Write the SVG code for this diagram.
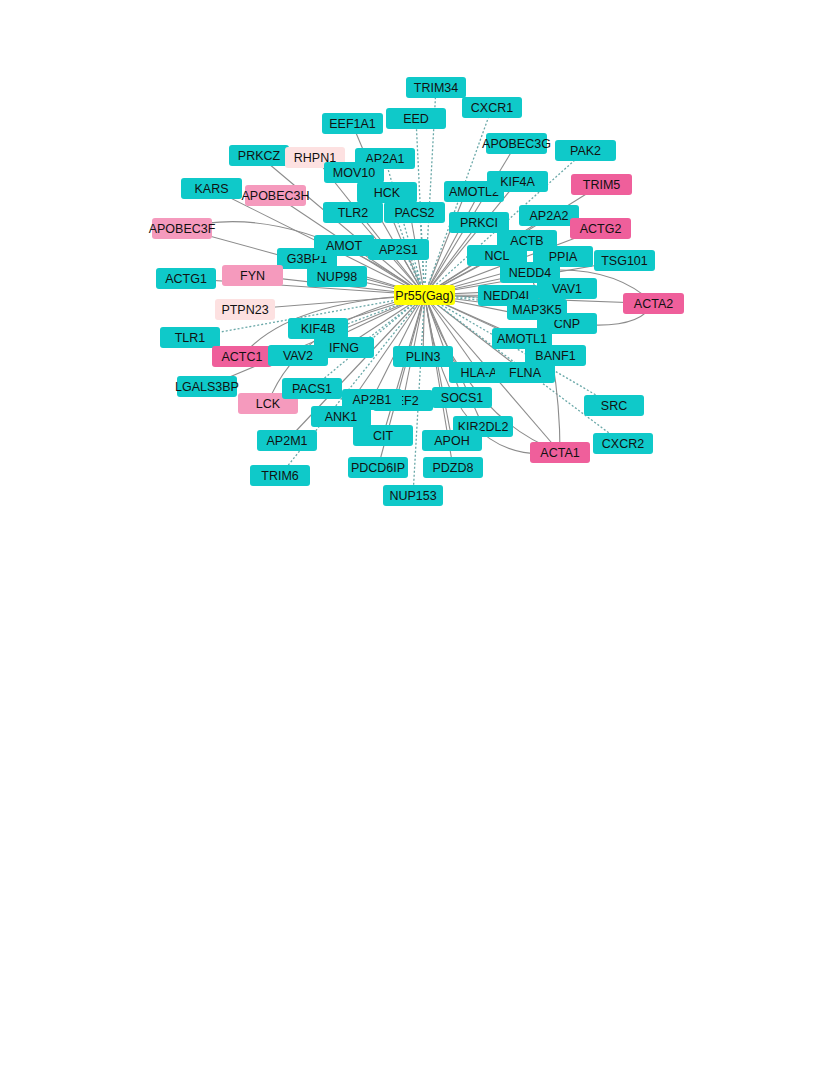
<svg xmlns="http://www.w3.org/2000/svg" width="834" height="1080" viewBox="0 0 834 1080">
<style>
.bg{fill:#ffffff}
.e{stroke:#8c8c8c;stroke-width:1.1;fill:none}
.d{stroke:#6aa8a8;stroke-width:1.3;stroke-dasharray:2 2;fill:none}
.t{fill:#0fc9c9}
.p{fill:#ef5f9b}
.m{fill:#f59abd}
.l{fill:#fde1e1}
.y{fill:#ffff00}
text{font-family:"Liberation Sans",Arial,sans-serif;font-size:12.5px;fill:#111;text-anchor:middle}
</style>
<rect class="bg" x="0" y="0" width="834" height="1080"/>
<g id="connectors">
<line class="e" x1="424.5" y1="295" x2="352" y2="123.5"/>
<line class="e" x1="424.5" y1="295" x2="516.5" y2="143.5"/>
<line class="e" x1="424.5" y1="295" x2="259" y2="155.5"/>
<line class="e" x1="424.5" y1="295" x2="315" y2="157.5"/>
<line class="e" x1="424.5" y1="295" x2="354" y2="172.5"/>
<line class="e" x1="424.5" y1="295" x2="601.5" y2="184.5"/>
<line class="e" x1="424.5" y1="295" x2="517.5" y2="181.5"/>
<line class="e" x1="424.5" y1="295" x2="466" y2="191.5"/>
<line class="e" x1="424.5" y1="295" x2="480" y2="191.5"/>
<line class="e" x1="424.5" y1="295" x2="211.5" y2="188.5"/>
<line class="e" x1="424.5" y1="295" x2="275.5" y2="195.5"/>
<line class="e" x1="424.5" y1="295" x2="353" y2="212.5"/>
<line class="e" x1="424.5" y1="295" x2="410" y2="212.5"/>
<line class="e" x1="424.5" y1="295" x2="549" y2="215.5"/>
<line class="e" x1="424.5" y1="295" x2="479" y2="222.5"/>
<line class="e" x1="424.5" y1="295" x2="182" y2="228.5"/>
<line class="e" x1="424.5" y1="295" x2="600.5" y2="228.5"/>
<line class="e" x1="424.5" y1="295" x2="527" y2="240.5"/>
<line class="e" x1="424.5" y1="295" x2="344" y2="245.5"/>
<line class="e" x1="424.5" y1="295" x2="398.5" y2="249.5"/>
<line class="e" x1="424.5" y1="295" x2="497" y2="255.5"/>
<line class="e" x1="424.5" y1="295" x2="563" y2="256.5"/>
<line class="e" x1="424.5" y1="295" x2="307" y2="258.5"/>
<line class="e" x1="424.5" y1="295" x2="624.5" y2="260.5"/>
<line class="e" x1="424.5" y1="295" x2="530" y2="272.5"/>
<line class="e" x1="424.5" y1="295" x2="252.5" y2="275.5"/>
<line class="e" x1="424.5" y1="295" x2="186" y2="278.5"/>
<line class="e" x1="424.5" y1="295" x2="337" y2="276.5"/>
<line class="e" x1="424.5" y1="295" x2="567" y2="288.5"/>
<line class="e" x1="424.5" y1="295" x2="508" y2="295.5"/>
<line class="e" x1="424.5" y1="295" x2="653.5" y2="303.5"/>
<line class="e" x1="424.5" y1="295" x2="245" y2="309.5"/>
<line class="e" x1="424.5" y1="295" x2="537" y2="309.5"/>
<line class="e" x1="424.5" y1="295" x2="567" y2="323.5"/>
<line class="e" x1="424.5" y1="295" x2="318" y2="328.5"/>
<line class="e" x1="424.5" y1="295" x2="522" y2="338.5"/>
<line class="e" x1="424.5" y1="295" x2="344" y2="347.5"/>
<line class="e" x1="424.5" y1="295" x2="298" y2="355.5"/>
<line class="e" x1="424.5" y1="295" x2="423" y2="356.5"/>
<line class="e" x1="424.5" y1="295" x2="555.5" y2="355.5"/>
<line class="e" x1="424.5" y1="295" x2="479" y2="372.5"/>
<line class="e" x1="424.5" y1="295" x2="525" y2="372.5"/>
<line class="e" x1="424.5" y1="295" x2="207" y2="386.5"/>
<line class="e" x1="424.5" y1="295" x2="462" y2="397.5"/>
<line class="e" x1="424.5" y1="295" x2="403" y2="400.5"/>
<line class="e" x1="424.5" y1="295" x2="372" y2="399.5"/>
<line class="e" x1="424.5" y1="295" x2="341" y2="416.5"/>
<line class="e" x1="424.5" y1="295" x2="483" y2="426.5"/>
<line class="e" x1="424.5" y1="295" x2="383" y2="435.5"/>
<line class="e" x1="424.5" y1="295" x2="287" y2="440.5"/>
<line class="e" x1="424.5" y1="295" x2="452" y2="440.5"/>
<line class="e" x1="424.5" y1="295" x2="560" y2="452.5"/>
<line class="e" x1="424.5" y1="295" x2="378" y2="467.5"/>
<line class="e" x1="424.5" y1="295" x2="453" y2="467.5"/>
<line class="d" x1="424.5" y1="295" x2="436" y2="87.5"/>
<line class="d" x1="424.5" y1="295" x2="492" y2="107.5"/>
<line class="d" x1="424.5" y1="295" x2="416" y2="118.5"/>
<line class="d" x1="424.5" y1="295" x2="585.5" y2="150.5"/>
<line class="d" x1="424.5" y1="295" x2="385" y2="158.5"/>
<line class="d" x1="424.5" y1="295" x2="387" y2="192.5"/>
<line class="d" x1="424.5" y1="295" x2="420" y2="212.5"/>
<line class="d" x1="424.5" y1="295" x2="404" y2="249.5"/>
<line class="d" x1="424.5" y1="295" x2="190" y2="337.5"/>
<line class="d" x1="424.5" y1="295" x2="312" y2="388.5"/>
<line class="d" x1="424.5" y1="295" x2="322" y2="333.5"/>
<line class="d" x1="424.5" y1="295" x2="350" y2="352.5"/>
<line class="d" x1="424.5" y1="295" x2="508" y2="299.5"/>
<line class="d" x1="424.5" y1="295" x2="537" y2="305.5"/>
<line class="d" x1="424.5" y1="295" x2="614" y2="405.5"/>
<line class="d" x1="424.5" y1="295" x2="623" y2="443.5"/>
<line class="d" x1="424.5" y1="295" x2="280" y2="475.5"/>
<line class="d" x1="424.5" y1="295" x2="413" y2="495.5"/>
<path class="e" d="M182,228 Q290,200 424.5,295"/>
<path class="e" d="M242,356 Q290,300 424.5,295"/>
<path class="e" d="M268,403 Q300,320 424.5,295"/>
<path class="e" d="M530,272 Q610,262 653,303"/>
<path class="e" d="M567,323 Q640,332 653,303"/>
<path class="e" d="M424.5,295 Q450,470 560,452"/>
<path class="e" d="M424.5,295 Q470,420 560,452"/>
<path class="e" d="M560,452 Q560,360 530,272"/>
</g>
<g id="n-AP2A1"><rect class="t" x="355" y="148" width="60" height="21" rx="3"/><text x="385" y="163">AP2A1</text></g>
<g id="n-PRKCZ"><rect class="t" x="229" y="145" width="60" height="21" rx="3"/><text x="259" y="160">PRKCZ</text></g>
<g id="n-RHPN1"><rect class="l" x="285" y="147" width="60" height="21" rx="3"/><text x="315" y="162">RHPN1</text></g>
<g id="n-MOV10"><rect class="t" x="324" y="162" width="60" height="21" rx="3"/><text x="354" y="177">MOV10</text></g>
<g id="n-TRIM34"><rect class="t" x="406" y="77" width="60" height="21" rx="3"/><text x="436" y="92">TRIM34</text></g>
<g id="n-CXCR1"><rect class="t" x="462" y="97" width="60" height="21" rx="3"/><text x="492" y="112">CXCR1</text></g>
<g id="n-EED"><rect class="t" x="386" y="108" width="60" height="21" rx="3"/><text x="416" y="123">EED</text></g>
<g id="n-EEF1A1"><rect class="t" x="322" y="113" width="61" height="21" rx="3"/><text x="352.5" y="128">EEF1A1</text></g>
<g id="n-APOBEC3G"><rect class="t" x="486" y="133" width="61" height="21" rx="3"/><text x="516.5" y="148">APOBEC3G</text></g>
<g id="n-PAK2"><rect class="t" x="555" y="140" width="61" height="21" rx="3"/><text x="585.5" y="155">PAK2</text></g>
<g id="n-AMOTL2"><rect class="t" x="444" y="181" width="60" height="21" rx="3"/><text x="474" y="196">AMOTL2</text></g>
<g id="n-KIF4A"><rect class="t" x="487" y="171" width="61" height="21" rx="3"/><text x="517.5" y="186">KIF4A</text></g>
<g id="n-TRIM5"><rect class="p" x="571" y="174" width="61" height="21" rx="3"/><text x="601.5" y="189">TRIM5</text></g>
<g id="n-KARS"><rect class="t" x="181" y="178" width="61" height="21" rx="3"/><text x="211.5" y="193">KARS</text></g>
<g id="n-HCK"><rect class="t" x="357" y="182" width="60" height="21" rx="3"/><text x="387" y="197">HCK</text></g>
<g id="n-APOBEC3H"><rect class="m" x="245" y="185" width="61" height="21" rx="3"/><text x="275.5" y="200">APOBEC3H</text></g>
<g id="n-TLR2"><rect class="t" x="323" y="202" width="60" height="21" rx="3"/><text x="353" y="217">TLR2</text></g>
<g id="n-PACS2"><rect class="t" x="384" y="202" width="61" height="21" rx="3"/><text x="414.5" y="217">PACS2</text></g>
<g id="n-AP2A2"><rect class="t" x="519" y="205" width="60" height="21" rx="3"/><text x="549" y="220">AP2A2</text></g>
<g id="n-PRKCI"><rect class="t" x="449" y="212" width="60" height="21" rx="3"/><text x="479" y="227">PRKCI</text></g>
<g id="n-APOBEC3F"><rect class="m" x="152" y="218" width="60" height="21" rx="3"/><text x="182" y="233">APOBEC3F</text></g>
<g id="n-ACTG2"><rect class="p" x="570" y="218" width="61" height="21" rx="3"/><text x="600.5" y="233">ACTG2</text></g>
<g id="n-NCL"><rect class="t" x="467" y="245" width="60" height="21" rx="3"/><text x="497" y="260">NCL</text></g>
<g id="n-PPIA"><rect class="t" x="533" y="246" width="60" height="21" rx="3"/><text x="563" y="261">PPIA</text></g>
<g id="n-ACTB"><rect class="t" x="497" y="230" width="60" height="21" rx="3"/><text x="527" y="245">ACTB</text></g>
<g id="n-NEDD4"><rect class="t" x="500" y="262" width="60" height="21" rx="3"/><text x="530" y="277">NEDD4</text></g>
<g id="n-G3BP1"><rect class="t" x="277" y="248" width="60" height="21" rx="3"/><text x="307" y="263">G3BP1</text></g>
<g id="n-AMOT"><rect class="t" x="314" y="235" width="60" height="21" rx="3"/><text x="344" y="250">AMOT</text></g>
<g id="n-AP2S1"><rect class="t" x="368" y="239" width="61" height="21" rx="3"/><text x="398.5" y="254">AP2S1</text></g>
<g id="n-NUP98"><rect class="t" x="307" y="266" width="60" height="21" rx="3"/><text x="337" y="281">NUP98</text></g>
<g id="n-TSG101"><rect class="t" x="594" y="250" width="61" height="21" rx="3"/><text x="624.5" y="265">TSG101</text></g>
<g id="n-FYN"><rect class="m" x="222" y="265" width="61" height="21" rx="3"/><text x="252.5" y="280">FYN</text></g>
<g id="n-ACTG1"><rect class="t" x="156" y="268" width="60" height="21" rx="3"/><text x="186" y="283">ACTG1</text></g>
<g id="n-VAV1"><rect class="t" x="537" y="278" width="60" height="21" rx="3"/><text x="567" y="293">VAV1</text></g>
<g id="n-NEDD4L"><rect class="t" x="478" y="285" width="60" height="21" rx="3"/><text x="508" y="300">NEDD4L</text></g>
<g id="n-CNP"><rect class="t" x="537" y="313" width="60" height="21" rx="3"/><text x="567" y="328">CNP</text></g>
<g id="n-MAP3K5"><rect class="t" x="507" y="299" width="60" height="21" rx="3"/><text x="537" y="314">MAP3K5</text></g>
<g id="n-ACTA2"><rect class="p" x="623" y="293" width="61" height="21" rx="3"/><text x="653.5" y="308">ACTA2</text></g>
<g id="n-PTPN23"><rect class="l" x="215" y="299" width="60" height="21" rx="3"/><text x="245" y="314">PTPN23</text></g>
<g id="n-KIF4B"><rect class="t" x="288" y="318" width="60" height="21" rx="3"/><text x="318" y="333">KIF4B</text></g>
<g id="n-TLR1"><rect class="t" x="160" y="327" width="60" height="21" rx="3"/><text x="190" y="342">TLR1</text></g>
<g id="n-AMOTL1"><rect class="t" x="492" y="328" width="60" height="21" rx="3"/><text x="522" y="343">AMOTL1</text></g>
<g id="n-ACTC1"><rect class="p" x="212" y="346" width="60" height="21" rx="3"/><text x="242" y="361">ACTC1</text></g>
<g id="n-IFNG"><rect class="t" x="314" y="337" width="60" height="21" rx="3"/><text x="344" y="352">IFNG</text></g>
<g id="n-VAV2"><rect class="t" x="268" y="345" width="60" height="21" rx="3"/><text x="298" y="360">VAV2</text></g>
<g id="n-PLIN3"><rect class="t" x="393" y="346" width="60" height="21" rx="3"/><text x="423" y="361">PLIN3</text></g>
<g id="n-BANF1"><rect class="t" x="525" y="345" width="61" height="21" rx="3"/><text x="555.5" y="360">BANF1</text></g>
<g id="n-HLA-A"><rect class="t" x="449" y="362" width="60" height="21" rx="3"/><text x="479" y="377">HLA-A</text></g>
<g id="n-FLNA"><rect class="t" x="495" y="362" width="60" height="21" rx="3"/><text x="525" y="377">FLNA</text></g>
<g id="n-LGALS3BP"><rect class="t" x="177" y="376" width="60" height="21" rx="3"/><text x="207" y="391">LGALS3BP</text></g>
<g id="n-LCK"><rect class="m" x="238" y="393" width="60" height="21" rx="3"/><text x="268" y="408">LCK</text></g>
<g id="n-PACS1"><rect class="t" x="282" y="378" width="60" height="21" rx="3"/><text x="312" y="393">PACS1</text></g>
<g id="n-EEF2"><rect class="t" x="373" y="390" width="60" height="21" rx="3"/><text x="403" y="405">EEF2</text></g>
<g id="n-SOCS1"><rect class="t" x="432" y="387" width="60" height="21" rx="3"/><text x="462" y="402">SOCS1</text></g>
<g id="n-AP2B1"><rect class="t" x="342" y="389" width="60" height="21" rx="3"/><text x="372" y="404">AP2B1</text></g>
<g id="n-CIT"><rect class="t" x="353" y="425" width="60" height="21" rx="3"/><text x="383" y="440">CIT</text></g>
<g id="n-ANK1"><rect class="t" x="311" y="406" width="60" height="21" rx="3"/><text x="341" y="421">ANK1</text></g>
<g id="n-SRC"><rect class="t" x="584" y="395" width="60" height="21" rx="3"/><text x="614" y="410">SRC</text></g>
<g id="n-KIR2DL2"><rect class="t" x="453" y="416" width="60" height="21" rx="3"/><text x="483" y="431">KIR2DL2</text></g>
<g id="n-AP2M1"><rect class="t" x="257" y="430" width="60" height="21" rx="3"/><text x="287" y="445">AP2M1</text></g>
<g id="n-APOH"><rect class="t" x="422" y="430" width="60" height="21" rx="3"/><text x="452" y="445">APOH</text></g>
<g id="n-CXCR2"><rect class="t" x="593" y="433" width="60" height="21" rx="3"/><text x="623" y="448">CXCR2</text></g>
<g id="n-ACTA1"><rect class="p" x="530" y="442" width="60" height="21" rx="3"/><text x="560" y="457">ACTA1</text></g>
<g id="n-PDCD6IP"><rect class="t" x="348" y="457" width="60" height="21" rx="3"/><text x="378" y="472">PDCD6IP</text></g>
<g id="n-PDZD8"><rect class="t" x="423" y="457" width="60" height="21" rx="3"/><text x="453" y="472">PDZD8</text></g>
<g id="n-TRIM6"><rect class="t" x="250" y="465" width="60" height="21" rx="3"/><text x="280" y="480">TRIM6</text></g>
<g id="n-NUP153"><rect class="t" x="383" y="485" width="60" height="21" rx="3"/><text x="413" y="500">NUP153</text></g>
<g id="n-Pr55Gag"><rect class="y" x="394" y="285" width="61" height="20" rx="3"/><text x="424.5" y="299.5">Pr55(Gag)</text></g>
</svg>
